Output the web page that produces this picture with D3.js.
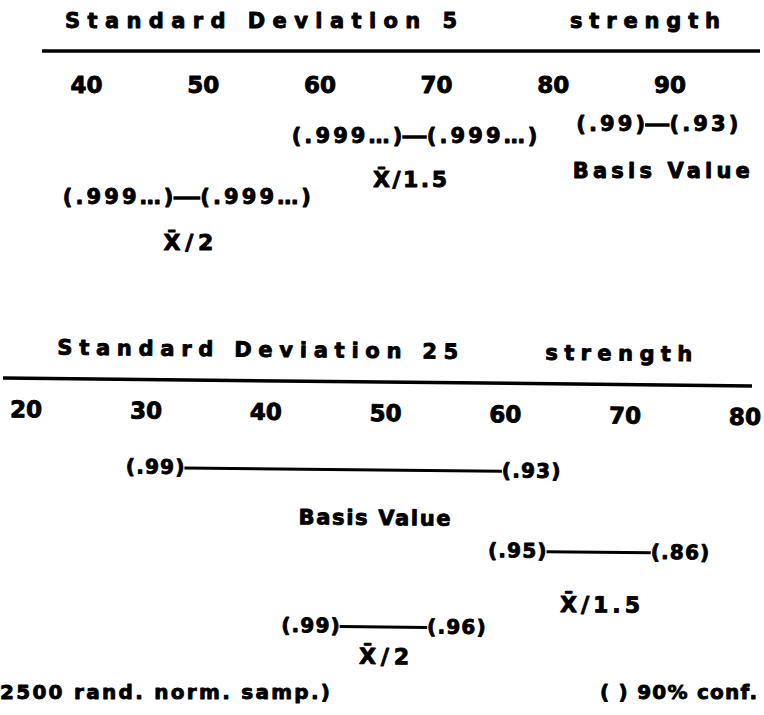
<!DOCTYPE html>
<html>
<head>
<meta charset="utf-8">
<script src="https://cdn.jsdelivr.net/npm/d3@7"></script>
<style>
  html, body { margin: 0; padding: 0; background: #fff; }
  svg text {
    font-family: "DejaVu Sans", "Liberation Sans", sans-serif; font-weight: bold;
    fill: #000; stroke: #000; stroke-width: 0.9px; stroke-linejoin: round;
  }
</style>
</head>
<body>
<svg id="chart" width="764" height="715"></svg>
<script>
// Strength ticks for each panel
const sd5Ticks = [40, 50, 60, 70, 80, 90];
const sd25Ticks = [20, 30, 40, 50, 60, 70, 80];

// Estimators compared in each panel
const estimators = ["Basis Value", "X\u0304/1.5", "X\u0304/2"];

// Standard deviation 5: interval ends on the strength scale, with confidence levels
const sd5Low = [87.9, 67.1, 47.5];
const sd5High = [90.0, 69.2, 49.8];
const sd5LowConf = ["(.99)", "(.999\u2026)", "(.999\u2026)"];
const sd5HighConf = ["(.93)", "(.999\u2026)", "(.999\u2026)"];

// Standard deviation 25
const sd25Low = [33.3, 63.6, 46.4];
const sd25High = [59.8, 72.3, 53.7];
const sd25LowConf = ["(.99)", "(.95)", "(.99)"];
const sd25HighConf = ["(.93)", "(.86)", "(.96)"];

const svg = d3.select("#chart");
svg.append("rect").attr("width", 764).attr("height", 715).attr("fill", "#fff");

function drawPanel(cfg) {
  const g = svg.append("g");
  if (cfg.rotate) g.attr("transform", `rotate(${cfg.rotate.a},${cfg.rotate.cx},${cfg.rotate.cy})`);

  const x = d3.scaleLinear().domain(d3.extent(cfg.ticks)).range(cfg.range);

  // heading
  g.append("text").attr("x", cfg.titleX).attr("y", cfg.titleY)
    .attr("font-size", 21).attr("textLength", cfg.titleLen).attr("lengthAdjust", "spacing")
    .text(cfg.title);
  g.append("text").attr("x", cfg.strengthX).attr("y", cfg.titleY)
    .attr("font-size", 21).attr("textLength", cfg.strengthLen).attr("lengthAdjust", "spacing")
    .text("strength");

  // horizontal rule
  g.append("line").attr("x1", cfg.ruleX[0]).attr("x2", cfg.ruleX[1])
    .attr("y1", cfg.ruleY).attr("y2", cfg.ruleY)
    .attr("stroke", "#000").attr("stroke-width", 3.5);

  // strength tick labels
  const ax = g.append("g").attr("transform", `translate(0,${cfg.tickY})`)
    .call(d3.axisBottom(x).tickValues(cfg.ticks).tickSize(0).tickPadding(0).tickFormat(d3.format("d")));
  ax.select(".domain").remove();
  ax.selectAll(".tick text").attr("y", 0).attr("dy", 0)
    .attr("font-size", 23).attr("font-family", null).attr("fill", "#000");

  // intervals
  const rows = estimators.map((name, i) => ({
    name, lo: cfg.low[i], hi: cfg.high[i], loC: cfg.lowConf[i], hiC: cfg.highConf[i], lay: cfg.layout[i]
  }));
  const rg = g.selectAll("g.row").data(rows).join("g").attr("class", "row");

  rg.append("line")
    .attr("x1", d => x(d.lo)).attr("x2", d => x(d.hi))
    .attr("y1", d => d.lay.y).attr("y2", d => d.lay.y)
    .attr("stroke", "#000").attr("stroke-width", cfg.lineW);

  rg.append("text")
    .attr("x", d => x(d.lo) + cfg.ls).attr("y", d => d.lay.y + 6)
    .attr("text-anchor", "end").attr("font-size", cfg.confSize).attr("letter-spacing", cfg.ls)
    .text(d => d.loC);
  rg.append("text")
    .attr("x", d => x(d.hi)).attr("y", d => d.lay.y + 6)
    .attr("font-size", cfg.confSize).attr("letter-spacing", cfg.ls)
    .text(d => d.hiC);

  rg.append("text")
    .attr("x", d => (x(d.lo) + x(d.hi)) / 2 + d.lay.dx - d.lay.w / 2)
    .attr("y", d => d.lay.y + d.lay.dy)
    .attr("font-size", d => d.name === "Basis Value" ? 21 : 22)
    .attr("textLength", d => d.lay.w).attr("lengthAdjust", "spacing")
    .text(d => d.name);
}

drawPanel({
  title: "Standard Deviation 5", titleX: 65, titleLen: 392, titleY: 28,
  strengthX: 570, strengthLen: 150,
  ruleX: [42, 760], ruleY: 51, tickY: 93,
  ticks: sd5Ticks, range: [85.9, 669.6],
  low: sd5Low, high: sd5High, lowConf: sd5LowConf, highConf: sd5HighConf,
  lineW: 3.5, ls: 3.1, confSize: 21,
  layout: [
    { y: 125, dy: 53, dx: 4, w: 177 },
    { y: 137, dy: 50, dx: -4.5, w: 74 },
    { y: 198, dy: 52, dx: 1.5, w: 50 }
  ]
});

drawPanel({
  title: "Standard Deviation 25", titleX: 57, titleLen: 401, titleY: 358,
  strengthX: 545, strengthLen: 147,
  ruleX: [3, 752], ruleY: 382, tickY: 421,
  ticks: sd25Ticks, range: [26, 744.8],
  low: sd25Low, high: sd25High, lowConf: sd25LowConf, highConf: sd25HighConf,
  lineW: 3, ls: 1.2, confSize: 20,
  rotate: { a: 0.6, cx: 380, cy: 382 },
  layout: [
    { y: 470, dy: 55, dx: 32, w: 152 },
    { y: 550, dy: 60, dx: 2, w: 80 },
    { y: 627, dy: 37, dx: 1, w: 50 }
  ]
});

// footnotes
svg.append("text").attr("x", 0).attr("y", 699).attr("font-size", 20)
  .attr("textLength", 330).attr("lengthAdjust", "spacing")
  .text("2500 rand. norm. samp.)");
svg.append("text").attr("x", 600).attr("y", 699).attr("font-size", 20)
  .attr("textLength", 157).attr("lengthAdjust", "spacing")
  .text("( ) 90% conf.");
</script>
</body>
</html>
